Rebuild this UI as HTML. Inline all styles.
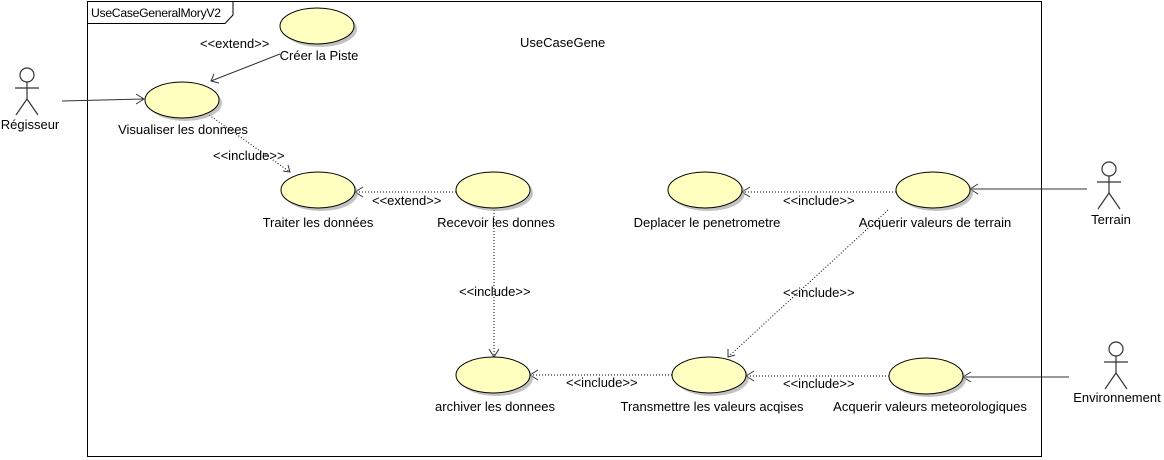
<!DOCTYPE html>
<html><head><meta charset="utf-8"><style>
html,body{margin:0;padding:0;background:#fff;}
svg{display:block;}
text{font-family:"Liberation Sans",sans-serif;font-size:13px;fill:#000;}
</style></head><body>
<svg width="1164" height="460" viewBox="0 0 1164 460" xmlns="http://www.w3.org/2000/svg">
<defs>
<g id="uc"><ellipse cx="3" cy="3" rx="37" ry="18" fill="#999" opacity="0.6"/><ellipse cx="0" cy="0" rx="37" ry="18" fill="#ffffc0" stroke="#000" stroke-width="1"/></g>
<g id="actor" stroke="#333" stroke-width="1.2" fill="none"><circle cx="0" cy="0" r="7" fill="#fff"/><line x1="0" y1="7" x2="0" y2="24"/><line x1="-12" y1="13" x2="12" y2="13"/><line x1="0" y1="24" x2="-11" y2="40"/><line x1="0" y1="24" x2="11" y2="40"/></g>
</defs>
<rect x="87.5" y="1.5" width="954" height="455" fill="none" stroke="#000"/>
<path d="M87.5 23.5 H225 L233 15 V1.5" fill="none" stroke="#000"/>
<text x="91" y="17" style="font-size:12.2px" textLength="130">UseCaseGeneralMoryV2</text>
<text x="520" y="47">UseCaseGene</text>

<g stroke="#333" fill="none" stroke-width="1">
<line x1="62" y1="101" x2="144" y2="99"/><path d="M136 94 L144 99 L136 104"/>
<line x1="280" y1="54" x2="211" y2="81"/><path d="M214 74 L211 81 L219 83"/>
<line x1="1087" y1="189" x2="970" y2="189"/><path d="M978 184 L970 189 L978 194"/>
<line x1="1069" y1="377" x2="963" y2="377"/><path d="M971 372 L963 377 L971 382"/>
</g>
<g stroke="#000" fill="none" stroke-width="1" stroke-dasharray="1,2">
<line x1="209" y1="115" x2="290" y2="172"/>
<line x1="456" y1="192" x2="355" y2="192"/>
<line x1="494" y1="210" x2="494" y2="357"/>
<line x1="896" y1="192" x2="742" y2="192"/>
<line x1="888" y1="210" x2="728" y2="357"/>
<line x1="672" y1="375" x2="530" y2="375"/>
<line x1="889" y1="376" x2="746" y2="376"/>
</g>
<g stroke="#333" fill="none" stroke-width="1">
<path d="M283 171 L290 172 L288 165"/>
<path d="M363 187 L355 192 L363 197"/>
<path d="M489 349 L494 357 L499 349"/>
<path d="M750 187 L742 192 L750 197"/>
<path d="M728 349 L728 357 L735 355"/>
<path d="M538 370 L530 375 L538 380"/>
<path d="M754 371 L746 376 L754 381"/>
</g>
<text x="200" y="48">&lt;&lt;extend&gt;&gt;</text>
<text x="213" y="160">&lt;&lt;include&gt;&gt;</text>
<text x="372" y="205">&lt;&lt;extend&gt;&gt;</text>
<text x="459" y="296">&lt;&lt;include&gt;&gt;</text>
<text x="783" y="205">&lt;&lt;include&gt;&gt;</text>
<text x="783" y="297">&lt;&lt;include&gt;&gt;</text>
<text x="566" y="387">&lt;&lt;include&gt;&gt;</text>
<text x="783" y="388">&lt;&lt;include&gt;&gt;</text>

<use href="#uc" x="317" y="26"/><text x="319" y="60" text-anchor="middle">Créer la Piste</text>
<use href="#uc" x="182" y="100"/><text x="183" y="134" text-anchor="middle">Visualiser les donnees</text>
<use href="#uc" x="318" y="190"/><text x="318" y="227" text-anchor="middle">Traiter les données</text>
<use href="#uc" x="493" y="190"/><text x="496" y="227" text-anchor="middle">Recevoir les donnes</text>
<use href="#uc" x="705" y="190"/><text x="707" y="227" text-anchor="middle">Deplacer le penetrometre</text>
<use href="#uc" x="933" y="190"/><text x="935" y="227" text-anchor="middle">Acquerir valeurs de terrain</text>
<use href="#uc" x="493" y="375"/><text x="495" y="411" text-anchor="middle">archiver les donnees</text>
<use href="#uc" x="709" y="375"/><text x="712" y="411" text-anchor="middle">Transmettre les valeurs acqises</text>
<use href="#uc" x="926" y="376"/><text x="930" y="411" text-anchor="middle">Acquerir valeurs meteorologiques</text>

<use href="#actor" x="27" y="75"/><text x="30" y="129" text-anchor="middle">Régisseur</text>
<use href="#actor" x="1109" y="169"/><text x="1111" y="224" text-anchor="middle">Terrain</text>
<use href="#actor" x="1116" y="349"/><text x="1117" y="402" text-anchor="middle">Environnement</text>
</svg>
</body></html>
